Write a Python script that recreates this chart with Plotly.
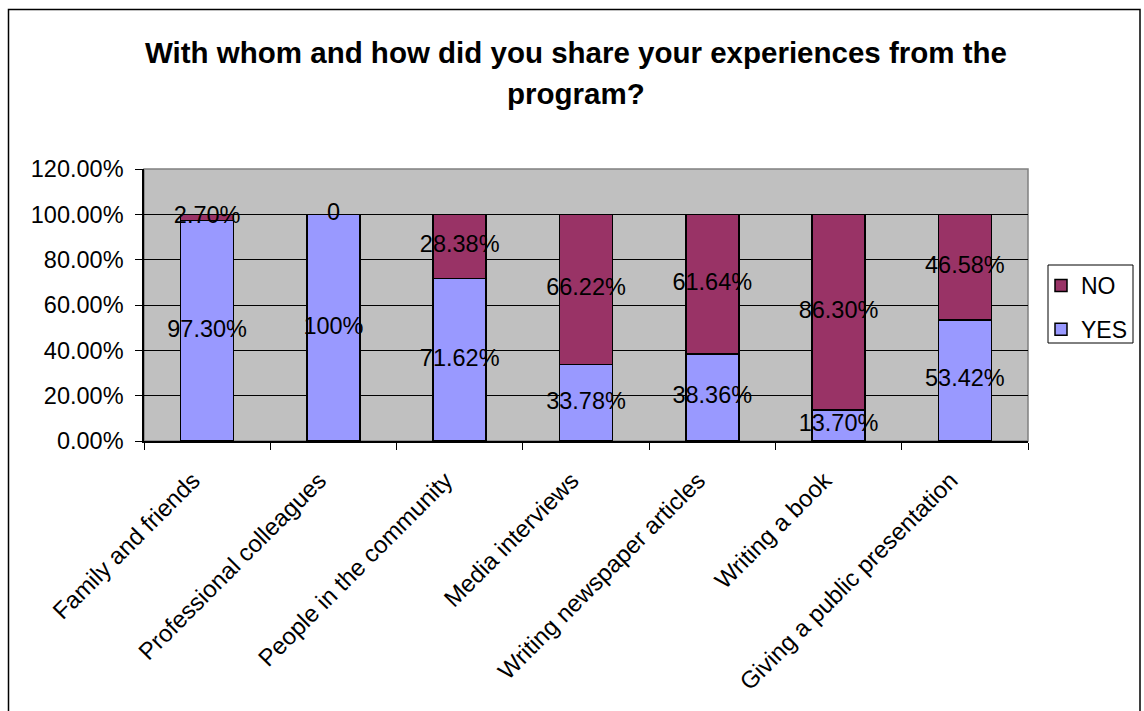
import plotly.graph_objects as go

categories = [
    "Family and friends",
    "Professional colleagues",
    "People in the community",
    "Media interviews",
    "Writing newspaper articles",
    "Writing a book",
    "Giving a public presentation",
]
yes_values = [0.9730, 1.0000, 0.7162, 0.3378, 0.3836, 0.1370, 0.5342]
no_values = [0.0270, 0.0000, 0.2838, 0.6622, 0.6164, 0.8630, 0.4658]
yes_labels = ["97.30%", "100%", "71.62%", "33.78%", "38.36%", "13.70%", "53.42%"]
no_labels = ["2.70%", "0", "28.38%", "66.22%", "61.64%", "86.30%", "46.58%"]
y_ticks = [0, 0.2, 0.4, 0.6, 0.8, 1.0, 1.2]

FONT = "Liberation Sans, Arial, sans-serif"
YES_COLOR = "#9999FF"
NO_COLOR = "#993366"

# plot-area geometry in pixels (for paper-coordinate decorations)
W, H = 1144, 711
L, R, T, B = 144, 1028, 169, 441


def px_x(px):
    return (px - L) / (R - L)


def px_y(py):
    return (B - py) / (B - T)


fig = go.Figure()

fig.add_trace(go.Bar(
    name="YES", x=categories, y=yes_values,
    legendgroup="yes", legendrank=2,
    marker=dict(color=YES_COLOR, line=dict(color="black", width=1.5)),
    hoverinfo="skip",
))
fig.add_trace(go.Bar(
    name="NO", x=categories, y=no_values,
    legendgroup="no", legendrank=1,
    marker=dict(color=NO_COLOR, line=dict(color="black", width=1.5)),
    hoverinfo="skip",
))

# value labels centred in each stacked segment
yes_mid = [v / 2 for v in yes_values]
no_mid = [y + n / 2 for y, n in zip(yes_values, no_values)]
fig.add_trace(go.Scatter(
    x=categories + categories,
    y=yes_mid + no_mid,
    text=yes_labels + no_labels,
    mode="text",
    textposition="middle center",
    textfont=dict(family=FONT, size=23.5, color="black"),
    showlegend=False,
    cliponaxis=False,
    hoverinfo="skip",
))

shapes = [
    # outer chart frame
    dict(type="rect", xref="paper", yref="paper",
         x0=px_x(8.5), x1=px_x(1140), y0=px_y(730), y1=px_y(9.5),
         line=dict(color="black", width=1.5), layer="below"),
    # plot-area border
    dict(type="rect", xref="paper", yref="paper",
         x0=0, x1=1, y0=0, y1=1,
         line=dict(color="#808080", width=1.5), layer="below"),
    # legend box
    dict(type="rect", xref="paper", yref="paper",
         x0=px_x(1048), x1=px_x(1133), y0=px_y(343), y1=px_y(265),
         line=dict(color="black", width=1), fillcolor="white", layer="below"),
]

annotations = [
    dict(text="<b>With whom and how did you share your experiences from the</b>",
         xref="paper", yref="paper", x=px_x(576), y=px_y(52),
         xanchor="center", yanchor="middle", showarrow=False,
         font=dict(family=FONT, size=29.5, color="black")),
    dict(text="<b>program?</b>",
         xref="paper", yref="paper", x=px_x(576), y=px_y(93),
         xanchor="center", yanchor="middle", showarrow=False,
         font=dict(family=FONT, size=29.5, color="black")),
]

fig.update_layout(
    width=W, height=H,
    barmode="stack",
    bargap=0.58,
    paper_bgcolor="white",
    plot_bgcolor="#C0C0C0",
    margin=dict(l=L, r=W - R, t=T, b=H - B, autoexpand=False),
    font=dict(family=FONT, size=23, color="black"),
    shapes=shapes,
    annotations=annotations,
    legend=dict(
        x=px_x(1041), y=px_y(264), xanchor="left", yanchor="top",
        traceorder="grouped", tracegroupgap=11,
        bgcolor="rgba(0,0,0,0)", borderwidth=0,
        font=dict(family=FONT, size=23, color="black"),
        itemwidth=30,
    ),
    xaxis=dict(
        tickmode="array",
        tickvals=categories,
        ticktext=[c + "\u00a0\u00a0\u00a0" for c in categories],
        tickangle=-45,
        tickson="boundaries",
        ticks="outside", ticklen=7, tickcolor="black", tickwidth=1,
        showline=True, linecolor="black", linewidth=1.5,
        showgrid=False,
        tickfont=dict(family=FONT, size=24, color="black"),
    ),
    yaxis=dict(
        range=[0, 1.2],
        tickvals=y_ticks,
        tickformat=".2%",
        ticks="outside", ticklen=7, tickcolor="black", tickwidth=1,
        ticklabelstandoff=7,
        showline=True, linecolor="black", linewidth=1.5,
        showgrid=True, gridcolor="black", gridwidth=1,
        zeroline=False,
        tickfont=dict(family=FONT, size=23.5, color="black"),
    ),
)

fig.write_html("out.html")
